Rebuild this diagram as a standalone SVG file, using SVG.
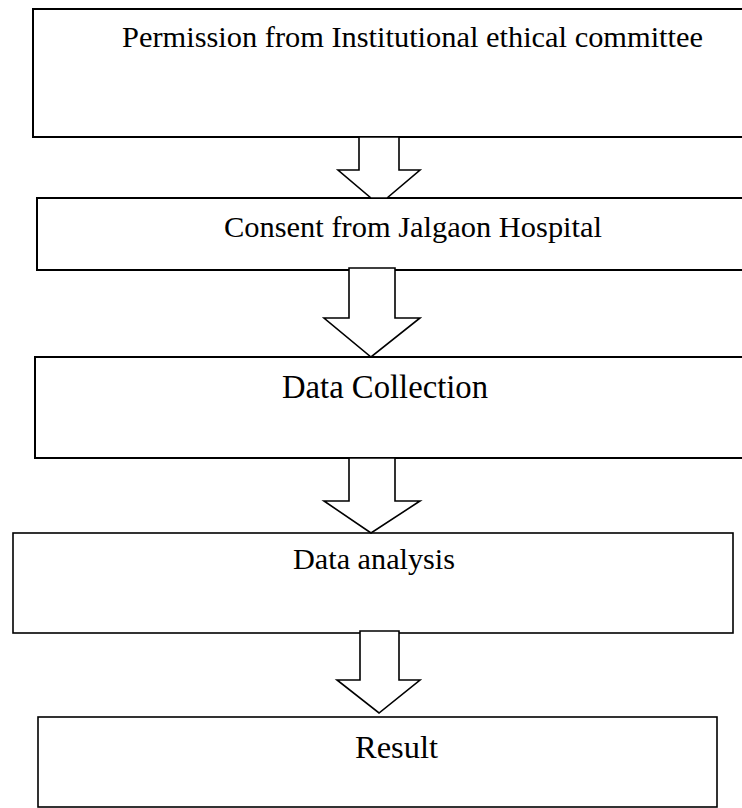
<svg xmlns="http://www.w3.org/2000/svg" width="742" height="808" viewBox="0 0 742 808">
<style>
.box{fill:#fff;stroke:#000;stroke-width:2}
.box.thin{stroke-width:1.6}
.arr{fill:#fff;stroke:#000;stroke-width:1.6;stroke-linejoin:miter}
text{font-family:"Liberation Serif","Times New Roman",serif;fill:#000}
</style>
<rect width="742" height="808" fill="#fff"/>
<g id="node-permission">
<rect class="box" x="33" y="9" width="715" height="128"/>
<text x="122" y="47" font-size="29" textLength="581" lengthAdjust="spacingAndGlyphs">Permission from Institutional ethical committee</text>
</g>
<g id="node-consent">
<rect class="box" x="37" y="198" width="711" height="72"/>
<text x="224" y="237" font-size="30" textLength="378" lengthAdjust="spacingAndGlyphs">Consent from Jalgaon Hospital</text>
</g>
<g id="node-collection">
<rect class="box" x="35" y="357" width="713" height="101"/>
<text x="282" y="398" font-size="33" textLength="206" lengthAdjust="spacingAndGlyphs">Data Collection</text>
</g>
<g id="node-analysis">
<rect class="box thin" x="13" y="533" width="720" height="100"/>
<text x="293" y="569" font-size="30" textLength="162" lengthAdjust="spacingAndGlyphs">Data analysis</text>
</g>
<g id="node-result">
<rect class="box thin" x="38" y="717" width="679" height="90"/>
<text x="355" y="758" font-size="32" textLength="83" lengthAdjust="spacingAndGlyphs">Result</text>
</g>
<g id="connectors">
<polygon class="arr" points="359,137 359,170 338,170 371,198 387,198 420,170 399,170 399,137"/>
<polygon class="arr" points="349,268 349,318 324,318 371,357 420,318 395,318 395,268"/>
<polygon class="arr" points="349,458 349,501 324,501 371,533 420,501 395,501 395,458"/>
<polygon class="arr" points="360,631 360,680 337,680 379,713 420,680 399,680 399,631"/>
</g>
</svg>
